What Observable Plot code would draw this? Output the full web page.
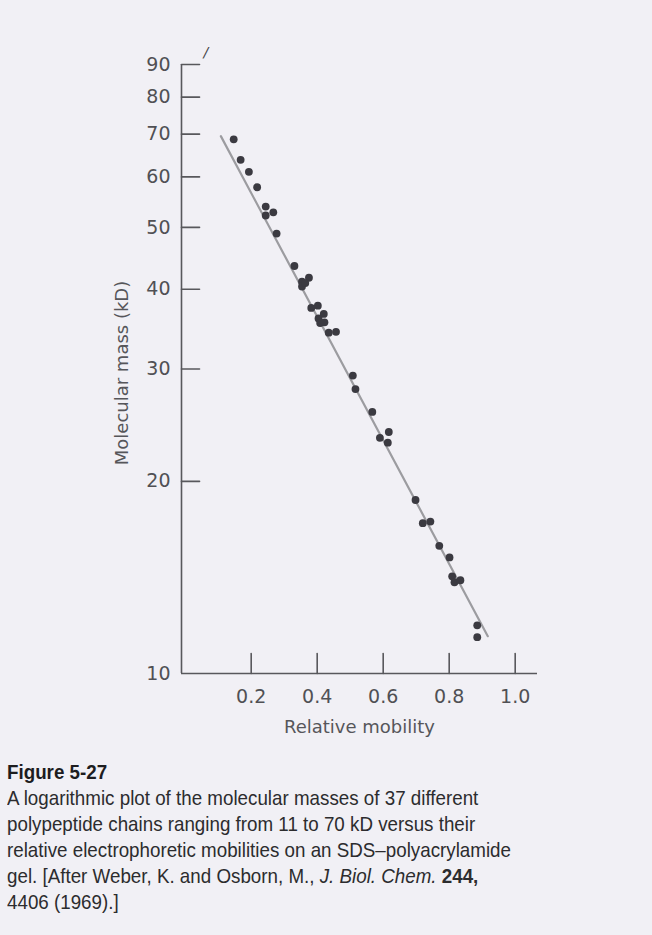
<!DOCTYPE html>
<html>
<head>
<meta charset="utf-8">
<script src="https://cdn.jsdelivr.net/npm/d3@7"></script>
<script src="https://cdn.jsdelivr.net/npm/@observablehq/plot@0.6"></script>
<style>
  html, body { margin: 0; padding: 0; background: #f1f0f5; }
  #chart { width: 652px; }
  #caption { margin-top: 14px; padding-left: 7px; font-family: "Liberation Sans", Arial, sans-serif; color: #2c2c2e; }
  #caption .line { display: block; white-space: nowrap; font-size: 21px; line-height: 26px; transform-origin: 0 50%; }
  #caption .title { font-weight: bold; color: #1d1d1f; }
</style>
</head>
<body>
<div id="chart"></div>
<div id="caption"></div>
<script>
// ---- data ----
const mobility = [0.147, 0.168, 0.193, 0.218, 0.244, 0.244, 0.267, 0.277, 0.331,
  0.354, 0.375, 0.354, 0.364, 0.382, 0.402, 0.420, 0.404, 0.409, 0.422, 0.435, 0.457,
  0.508, 0.516, 0.567, 0.617, 0.590, 0.614,
  0.698, 0.720, 0.743, 0.770, 0.801, 0.809, 0.816, 0.834, 0.885, 0.885];
const massKD = [68.7, 63.8, 61.1, 57.8, 53.9, 52.2, 52.8, 48.9, 43.5,
  41.1, 41.7, 40.4, 40.9, 37.4, 37.7, 36.6, 36.0, 35.4, 35.5, 34.2, 34.3,
  29.3, 27.9, 25.7, 23.9, 23.4, 23.0,
  18.7, 17.2, 17.3, 15.85, 15.2, 14.2, 13.9, 14.0, 11.9, 11.4];
const fitMobility = [0.108, 0.917];
const fitMass = [69.5, 11.44];
const xTicks = [0.2, 0.4, 0.6, 0.8, 1.0];
const yTicks = [10, 20, 30, 40, 50, 60, 70, 80, 90];
const xLabel = "Relative mobility";
const yLabel = "Molecular mass (kD)";
const captionTitle = "Figure 5-27";
const captionLines = [
  "A logarithmic plot of the molecular masses of 37 different",
  "polypeptide chains ranging from 11 to 70 kD versus their",
  "relative electrophoretic mobilities on an SDS\u2013polyacrylamide",
  "gel. [After Weber, K. and Osborn, M., <i>J. Biol. Chem.</i> <b>244,</b>",
  "4406 (1969).]"
];

const points = mobility.map((m, i) => ({mobility: m, mass: massKD[i]}));
const fit = fitMobility.map((m, i) => ({mobility: m, mass: fitMass[i]}));
const xDomain = [-0.0112, 1.0676];
const yDomain = [10, 90];

const axisColor = "#58585c";
const tickShape = {draw(context, l) { context.moveTo(0, 0); context.lineTo(0, -l); }};

const chart = Plot.plot({
  width: 652,
  height: 745,
  marginLeft: 181,
  marginRight: 115,
  marginTop: 64,
  marginBottom: 72,
  style: {fontFamily: "DejaVu Sans", fontSize: "18px", background: "transparent", color: axisColor},
  x: {domain: xDomain, axis: null},
  y: {type: "log", domain: yDomain, axis: null},
  marks: [
    Plot.ruleX([xDomain[0]], {stroke: axisColor, strokeWidth: 1.6}),
    Plot.ruleY([yDomain[0]], {stroke: axisColor, strokeWidth: 1.6}),
    Plot.vector(yTicks.slice(1), {y: d => d, frameAnchor: "left", rotate: 90, length: 18, anchor: "start", shape: tickShape, stroke: axisColor, strokeWidth: 1.6}),
    Plot.vector(xTicks, {x: d => d, frameAnchor: "bottom", rotate: 0, length: 20, anchor: "start", shape: tickShape, stroke: axisColor, strokeWidth: 1.6}),
    Plot.axisY(yTicks, {tickSize: 0, tickPadding: 11, fontSize: 19, fill: "#505054", tickFormat: d => String(d), label: null}),
    Plot.axisX(xTicks, {tickSize: 0, tickPadding: 16, fontSize: 19, fill: "#505054", tickFormat: d3.format(".1f"), label: null}),
    Plot.text([xLabel], {text: d => d, frameAnchor: "bottom", dy: 54, lineAnchor: "middle", fontSize: 18, fill: "#56565a"}),
    Plot.text([yLabel], {text: d => d, frameAnchor: "left", textAnchor: "middle", lineAnchor: "middle", dx: -59, dy: 4, rotate: -90, fontSize: 18, fill: "#56565a"}),
    Plot.text(["/"], {text: d => d, frameAnchor: "top-left", dx: 22, dy: -17, fontSize: 14, fill: "#444", fontStyle: "italic"}),
    Plot.line(fit, {x: "mobility", y: "mass", stroke: "#9c9ca0", strokeWidth: 2.2}),
    Plot.dot(points, {x: "mobility", y: "mass", r: 3.9, fill: "#3b3a41", stroke: "none"})
  ]
});
document.getElementById("chart").appendChild(chart);

// caption
const cap = document.getElementById("caption");
const t = document.createElement("span");
t.className = "line title";
t.textContent = captionTitle;
cap.appendChild(t);
const spans = captionLines.map(s => {
  const e = document.createElement("span");
  e.className = "line";
  e.innerHTML = s;
  cap.appendChild(e);
  return e;
});
// uniform horizontal fit so the longest line matches the reference width
const probe = spans[2];
probe.style.display = "inline-block";
const w = probe.getBoundingClientRect().width;
probe.style.display = "";
const k = 504 / w;
[t, ...spans].forEach(e => { e.style.transform = `scaleX(${k})`; });
</script>
</body>
</html>
